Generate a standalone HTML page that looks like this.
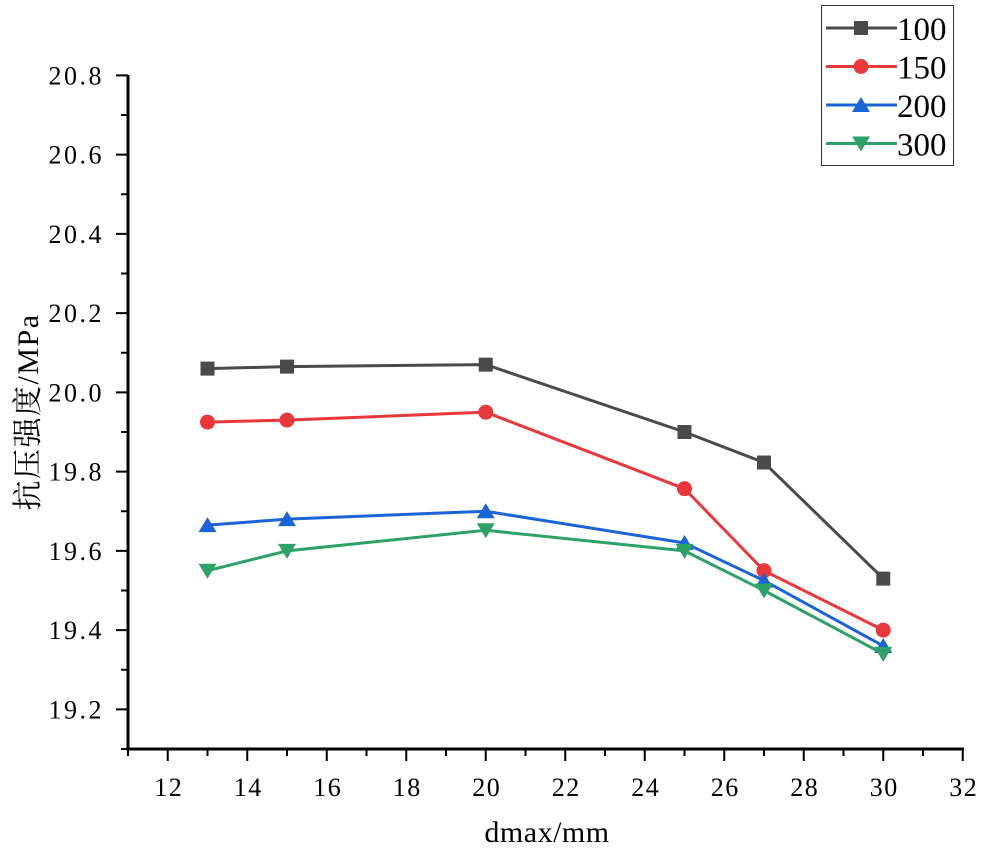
<!DOCTYPE html>
<html><head><meta charset="utf-8"><style>
body{margin:0;background:#fff}
svg{display:block;font-family:"Liberation Serif","Noto Serif CJK SC",serif}
</style></head><body>
<svg id="c" width="981" height="850"></svg>
<script>
const xs=[13,15,20,25,27,30];
const s100=[20.06,20.065,20.07,19.90,19.823,19.53];
const s150=[19.925,19.93,19.95,19.757,19.55,19.40];
const s200=[19.665,19.68,19.70,19.62,19.525,19.36];
const s300=[19.55,19.60,19.652,19.60,19.50,19.34];
const xTicks=[12,14,16,18,20,22,24,26,28,30,32];
const yTicks=[19.2,19.4,19.6,19.8,20.0,20.2,20.4,20.6,20.8];
const names=["100","150","200","300"];
const NS="http://www.w3.org/2000/svg",svg=document.getElementById('c');
const X=v=>128+(v-11)*39.75, Y=v=>749-(v-19.1)*396.25;
function el(t,a,p){const e=document.createElementNS(NS,t);for(const k in a)e.setAttribute(k,a[k]);(p||svg).appendChild(e);return e;}
let g=el('g',{});
el('line',{x1:126,y1:749,x2:964,y2:749,stroke:'#000','stroke-width':3},g);
for(let v=11;v<=32;v++){const big=v%2==0;el('line',{x1:X(v),y1:749,x2:X(v),y2:749+(big?12:7),stroke:'#000','stroke-width':2},g);}
xTicks.forEach(v=>{const t=el('text',{x:X(v)+1,y:796,'text-anchor':'middle','font-size':26,'letter-spacing':1.5},g);t.textContent=v;});
let xt=el('text',{x:547,y:842,'text-anchor':'middle','font-size':30,'letter-spacing':0.5});xt.textContent='dmax/mm';

g=el('g',{});
el('line',{x1:128,y1:75,x2:128,y2:750,stroke:'#000','stroke-width':3},g);
for(let i=0;i<=17;i++){const v=19.1+i*0.1;const big=i%2==1;el('line',{x1:128,y1:Y(v),x2:128-(big?12:7),y2:Y(v),stroke:'#000','stroke-width':2},g);}
yTicks.forEach(v=>{const t=el('text',{x:104,y:Y(v)+9,'text-anchor':'end','font-size':26,'letter-spacing':2.5},g);t.textContent=v.toFixed(1);});
let yt=el('text',{x:38,y:412,'text-anchor':'middle','font-size':30,'letter-spacing':1.5,transform:'rotate(-90 38 412)'});yt.textContent='抗压强度/MPa';

const cols=['#4a4a4a','#e8383b','#1a64d6','#2ea266'];
function marker(k,cx,cy,p){
 if(k==0)return el('rect',{x:cx-7,y:cy-7,width:14,height:14,fill:cols[0]},p);
 if(k==1)return el('circle',{cx,cy,r:7.5,fill:cols[1]},p);
 if(k==2)return el('polygon',{points:`${cx},${cy-8} ${cx-9},${cy+7} ${cx+9},${cy+7}`,fill:cols[2]},p);
 return el('polygon',{points:`${cx},${cy+8} ${cx-9},${cy-7} ${cx+9},${cy-7}`,fill:cols[3]},p);
}
[s100,s150,s200,s300].forEach((s,k)=>{
 const sg=el('g',{});
 
 
 el('polyline',{points:xs.map((x,i)=>X(x)+','+Y(s[i])).join(' '),fill:'none',stroke:cols[k],'stroke-width':3},sg);
 xs.forEach((x,i)=>{const m=marker(k,X(x),Y(s[i]),sg);
  
  });
});
const lg=el('g',{});


el('rect',{x:821.5,y:5.5,width:132,height:160,fill:'#fff',stroke:'#333','stroke-width':1},lg);
names.forEach((n,k)=>{
 const eg=el('g',{},lg);
 
 
 const y=28+k*38.5;
 el('line',{x1:826,y1:y,x2:897,y2:y,stroke:cols[k],'stroke-width':3},eg);
 marker(k,861,y,eg);
 const t=el('text',{x:897,y:y+12,'font-size':33},eg);t.textContent=n;
});
</script>
</body></html>
